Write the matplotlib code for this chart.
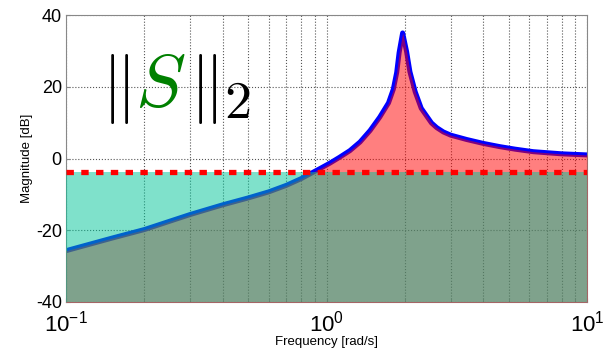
import numpy as np
import matplotlib.pyplot as plt
from matplotlib.ticker import NullFormatter

plt.rcParams['font.family'] = ['Liberation Sans', 'DejaVu Sans']
plt.rcParams['mathtext.fontset'] = 'cm'
plt.rcParams['axes.unicode_minus'] = False

# magnitude of S
freq = [0.1, 0.15, 0.2, 0.3, 0.4, 0.5, 0.6, 0.7, 0.8, 0.864, 0.95, 1.03, 1.12, 1.23,
        1.345, 1.47, 1.6, 1.73, 1.805, 1.86, 1.9, 1.96, 2.03, 2.09, 2.19, 2.31, 2.53,
        2.65, 2.81, 3.0, 3.45, 4.0, 4.63, 5.3, 6.22, 8.0, 10.0]
mag_db = [-25.7, -22.2, -19.8, -15.6, -12.9, -11.0, -9.3, -7.5, -5.6, -4.3, -2.7, -1.3,
          0.3, 2.2, 4.6, 7.8, 11.5, 15.5, 19.3, 24.0, 29.5, 35.0, 29.8, 24.2, 18.6,
          14.0, 9.9, 8.6, 7.4, 6.5, 5.3, 4.2, 3.3, 2.6, 1.9, 1.3, 1.0]
bound_db = -3.9
floor_db = -40
x_range = [0.1, 10]
yticks = [-40, -20, 0, 20, 40]

fig = plt.figure(figsize=(6.11, 3.55), dpi=100)
ax = fig.add_axes([66/611, 53/355, 521/611, 287/355])

ax.plot(freq, mag_db, color='#0000ff', lw=3.6, zorder=2, solid_joinstyle='round')
ax.fill_between(freq, mag_db, floor_db, color='red', alpha=0.5, lw=0, zorder=3)
ax.fill_between(x_range, bound_db, floor_db, color=(0, 197/255, 153/255), alpha=0.5,
                lw=0, zorder=4)
ax.plot(x_range, [bound_db, bound_db], color='red', lw=3.8,
        ls=(0, (1.4, 1.4)), dash_capstyle='butt', zorder=5)

ax.set_xscale('log')
ax.set_xlim(x_range)
ax.set_ylim(-40, 40)
ax.set_yticks(yticks)
ax.set_xticks([0.1, 1, 10])
ax.set_xticklabels([r'$\mathregular{10^{-1}}$', r'$\mathregular{10^{0}}$', r'$\mathregular{10^{1}}$'])
ax.xaxis.set_minor_formatter(NullFormatter())
ax.tick_params(axis='x', labelsize=16, pad=6)
ax.tick_params(axis='y', labelsize=13, pad=3)
ax.tick_params(which='both', direction='in', length=3, color='#888888')

ax.grid(True, which='major', ls=':', color='#555555', lw=0.8)
ax.grid(True, which='minor', axis='x', ls=':', color='#555555', lw=0.8)
for sp in ax.spines.values():
    sp.set_color('#888888')

ax.set_xlabel('Frequency [rad/s]', fontsize=9.5, labelpad=0)
ax.set_ylabel('Magnitude [dB]', fontsize=9.5, labelpad=2)

# ||S||_2 annotation, pieces placed by glyph centre (pixels from top-left)
def px(x, y):
    return ((x - 66) / 521, (302 - y) / 287)

bars = [(108, '$|$'), (123, '$|$'), (196, '$|$'), (210, '$|$')]
for xb, s in bars:
    ax.text(*px(xb, 107), s, transform=ax.transAxes, fontsize=50,
            ha='center', va='baseline', color='black')
ax.text(*px(160, 106), '$S$', transform=ax.transAxes, fontsize=54,
        ha='center', va='baseline', color='#008000')
ax.text(*px(237, 118), '$2$', transform=ax.transAxes, fontsize=39,
        ha='center', va='baseline', color='black')

fig.savefig('out.png', dpi=100)
